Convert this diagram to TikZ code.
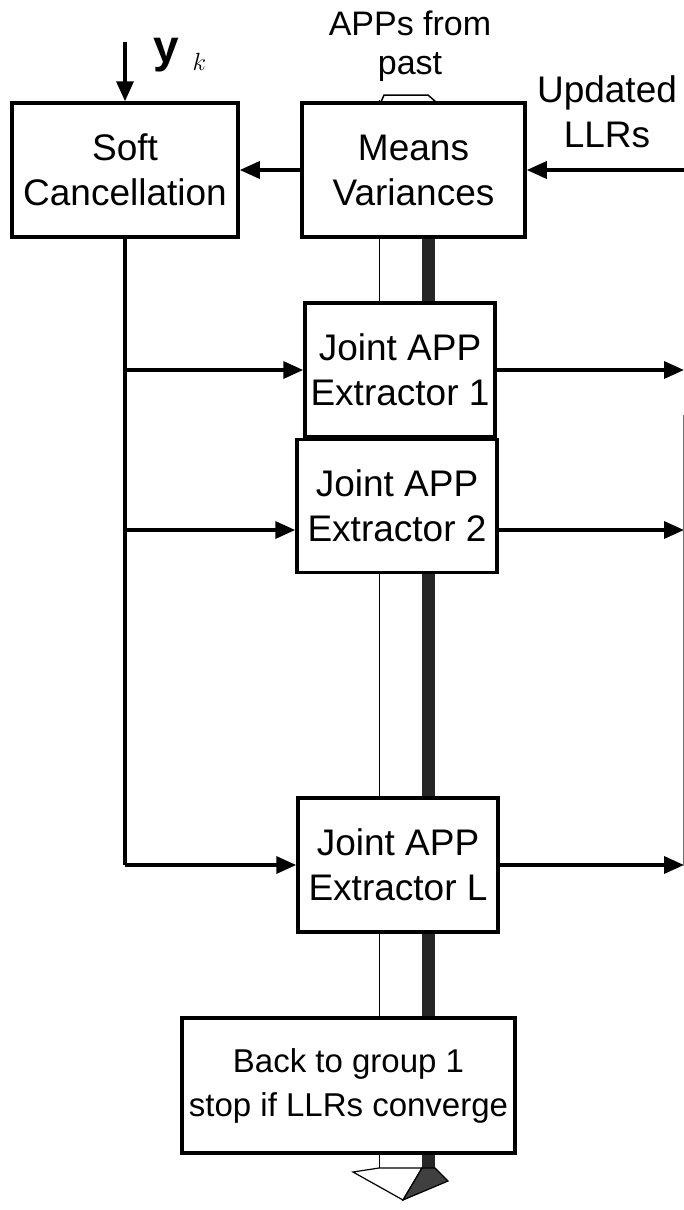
\documentclass[tikz,border=0pt]{standalone}
\usepackage{fontspec}
\setmainfont{Liberation Sans}
\usetikzlibrary{arrows.meta,positioning}
\newcommand{\blkfont}{\fontsize{37}{45}\selectfont}
\newcommand{\apfont}{\fontsize{34}{39}\selectfont}
\tikzset{
  blk style/.style={rectangle, draw, line width=3.5pt, fill=white,
    align=center, inner sep=0pt, font=\blkfont},
  arr style/.style={-{Triangle[length=20pt,width=17pt]}, line width=3.5pt},
  lbl style/.style={align=center, inner sep=0pt, font=\blkfont}
}

\begin{document}
\begin{tikzpicture}[x=1pt,y=-1pt]
\useasboundingbox (0,0) rectangle (684,1210);
% wide 3-D arrow behind the blocks
\fill[white] (379,100) rectangle (422,1168);
\draw[line width=1pt] (379,100) -- (379,1168);
\fill[black!85] (422,100) rectangle (435,1168);
\draw[line width=1.5pt, fill=white] (381,102) -- (384,95) -- (428,95) -- (436,102) -- cycle;
\draw[line width=1.2pt, fill=white] (379,1168) -- (353,1172) -- (403,1200) -- (422,1168) -- cycle;
\draw[line width=1.2pt, fill=black!75] (422,1168) -- (435,1168) -- (448,1181) -- (403,1200) -- cycle;

\node[blk style, minimum width=226pt, minimum height=134pt] (sc) at (125,170) {Soft\\Cancellation};
\node[blk style, minimum width=223pt, minimum height=134pt] (mv) at (413.5,170) {Means\\Variances};
\node[blk style, minimum width=190pt, minimum height=134pt] (j1) at (400,370) {Joint APP\\Extractor 1};
\node[blk style, minimum width=200pt, minimum height=133pt] (j2) at (397,506) {Joint APP\\Extractor 2};
\node[blk style, minimum width=200pt, minimum height=134pt] (jl) at (398,865) {Joint APP\\Extractor L};
\node[blk style, minimum width=333pt, minimum height=135pt, font=\fontsize{33}{44}\selectfont] (back) at (348.5,1085.5) {Back to group 1\\stop if LLRs converge};

\node[lbl style, font=\apfont] (apps) at (410,46) {APPs from\\past};
\node[lbl style] (llr) at (607,112) {Updated\\LLRs};
\node[anchor=base west, inner sep=0pt, font=\fontsize{46}{46}\selectfont] (yk) at (153,62) {$\mathbf{y}_{\;\;k}$};

\coordinate (yin) at (125,42);
\coordinate (llrin) at (684,170);
\coordinate (t1) at (sc.south |- j1.west);
\coordinate (t2) at (125,530);
\coordinate (tl) at (sc.south |- jl.west);
\coordinate (o1) at (684,370);
\coordinate (o2) at (684,530);
\coordinate (ol) at (684,865);

\draw[arr style] (yin) -- (sc.north);
\draw[arr style] (llrin) -- (mv);
\draw[arr style] (mv) -- (sc);
\draw[line width=3.5pt] (sc.south) -- (tl);
\draw[arr style] (t1) -- (j1);
\draw[arr style] (t2) -- (j2.west |- t2);
\draw[arr style] (tl) -- (jl);
\draw[arr style] (j1) -- (o1);
\draw[arr style] (j2.east |- o2) -- (o2);
\draw[arr style] (jl) -- (ol);
\draw[line width=0.8pt, black!55] (683,415) -- (683,866);
\end{tikzpicture}
\end{document}
